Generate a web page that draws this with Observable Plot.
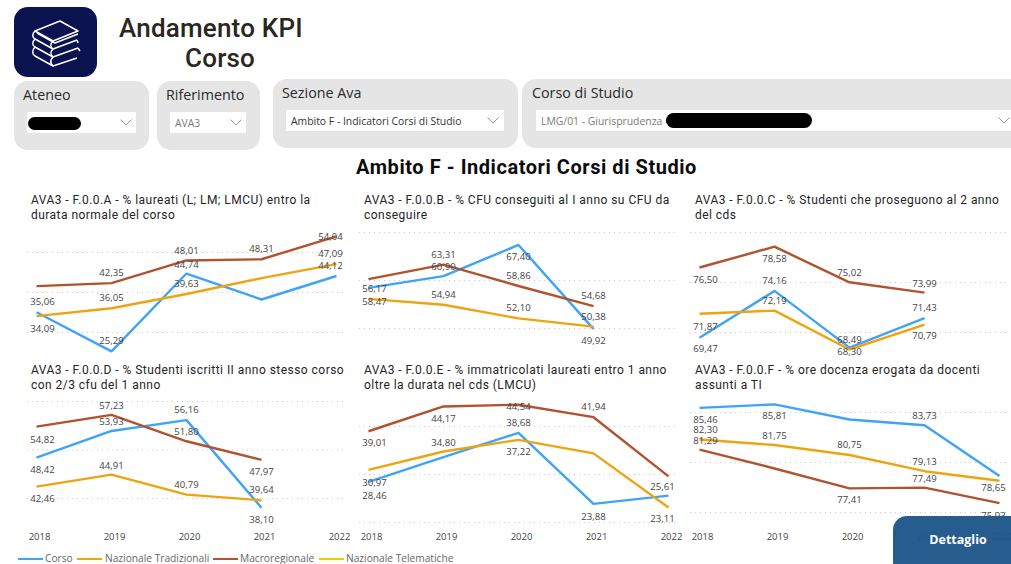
<!DOCTYPE html>
<html lang="it">
<head>
<meta charset="utf-8">
<title>Andamento KPI Corso</title>
<script src="https://cdn.jsdelivr.net/npm/d3@7"></script>
<script src="https://cdn.jsdelivr.net/npm/@observablehq/plot@0.6"></script>
<style>
  html, body { margin: 0; padding: 0; background: #fff; }
  #page { position: relative; width: 1011px; height: 564px; overflow: hidden; font-family: "Open Sans", sans-serif; background: #fff; }
  #page > * { position: absolute; }
  .din { font-family: Roboto, sans-serif; }
  .logo { left: 14px; top: 7px; width: 83px; height: 70px; border-radius: 14px; background: #0b1250; }
  .h1 { left: 119px; color: #2a2620; font-size: 26px; font-weight: 500; letter-spacing: .2px; line-height: 30px; white-space: nowrap; }
  .card { background: #e5e5e5; border-radius: 14px; }
  .cardlabel { font-size: 14.3px; color: #2b2b2b; line-height: 18px; white-space: nowrap; }
  .box { background: #fff; }
  .val { font-size: 10.4px; line-height: 14px; white-space: nowrap; }
  .scribble { background: #000; border-radius: 8px; }
  .chev { display: block; width: 12px; height: 7px; }
  .main { left: 0; width: 1053px; top: 155px; text-align: center; font-size: 20px; font-weight: 700; color: #0c0c0c; letter-spacing: .55px; line-height: 24px; white-space: nowrap; }
  .ptitle { font-size: 12px; color: #252423; line-height: 14.6px; letter-spacing: .46px; white-space: nowrap; font-weight: 400; }
  .legend { font-size: 10.2px; color: #666; white-space: nowrap; line-height: 12px; }
  .lg { height: 2px; width: 25px; }
  .btn { left: 893px; top: 516px; width: 140px; height: 60px; border-radius: 14px; background: rgba(31,87,138,.97); }
  .btnt { left: 893px; width: 130px; top: 532px; text-align: center; color: #fff; font-weight: 700; font-size: 12.5px; line-height: 16px; }
</style>
</head>
<body>
<div id="page"></div>
<script>
// ---------- data ----------
const years = [2018, 2019, 2020, 2021, 2022];
const seriesNames = ["Corso", "Nazionale Tradizionali", "Macroregionale", "Nazionale Telematiche"];
const seriesColors = ["#3fa3f8", "#eda411", "#b0532e", "#e8cf00"];

const titleA = ["AVA3 - F.0.0.A - % laureati (L; LM; LMCU) entro la", "durata normale del corso"];
const corsoA = [35.06, 25.29, 44.74, 38.25, 44.12];
const nazionaleA = [34.09, 36.05, 39.63, 43.60, 47.09];
const macroA = [41.60, 42.35, 48.01, 48.31, 54.04];
const gridA = [30, 40, 50];

const titleB = ["AVA3 - F.0.0.B - % CFU conseguiti al I anno su CFU da", "conseguire"];
const corsoB = [58.47, 60.90, 67.40, 49.92, null];
const nazionaleB = [56.17, 54.94, 52.10, 50.38, null];
const macroB = [60.30, 63.31, 58.86, 54.68, null];
const gridB = [50, 60, 70];

const titleC = ["AVA3 - F.0.0.C - % Studenti che proseguono al 2 anno", "del cds"];
const corsoC = [69.47, 74.16, 68.49, 71.43, null];
const nazionaleC = [71.87, 72.19, 68.30, 70.79, null];
const macroC = [76.50, 78.58, 75.02, 73.99, null];
const gridC = [70, 75, 80];

const titleD = ["AVA3 - F.0.0.D - % Studenti iscritti II anno stesso corso", "con 2/3 cfu del 1 anno"];
const corsoD = [48.42, 53.93, 56.16, 38.10, null];
const nazionaleD = [42.46, 44.91, 40.79, 39.64, null];
const macroD = [54.82, 57.23, 51.80, 47.97, null];
const gridD = [40, 50, 60];

const titleE = ["AVA3 - F.0.0.E - % immatricolati laureati entro 1 anno", "oltre la durata nel cds (LMCU)"];
const corsoE = [28.46, 33.60, 38.68, 23.88, 25.61];
const nazionaleE = [30.97, 34.80, 37.22, 34.40, 23.11];
const macroE = [39.01, 44.17, 44.54, 41.94, 29.60];
const gridE = [20, 30, 40];

const titleF = ["AVA3 - F.0.0.F - % ore docenza erogata da docenti", "assunti a TI"];
const corsoF = [85.46, 85.81, 84.30, 83.73, 78.65];
const nazionaleF = [82.30, 81.75, 80.75, 79.13, 78.17];
const macroF = [81.29, 79.40, 77.41, 77.49, 75.93];
const gridF = [75, 80, 85];

// Which values carry a data label, and on which side of the point it sits (null = no label)
const labelsA = [[-10,-10,-9,null,-10],[13,-10,-10,null,-10],[null,-10,-10,-10,1]];
const labelsB = [[14,-9,12,12,null],[-10,-10,-10,-10,null],[null,-10,-10,-10,null]];
const labelsC = [[11,-10,-8,-10,null],[13,-10,2,11,null],[12,12,-9,-9,null]];
const labelsD = [[12,-9,-10,12,null],[12,-9,-10,-10,null],[13,-9,-9,12,null]];
const labelsE = [[14,null,-10,13,-9],[13,-9,12,null,11],[12,12,2,-10,null]];
const labelsF = [[12,12,null,-9,12],[-10,-9,-10,-9,null],[-9,null,12,-9,13]];

const fmt = v => v.toFixed(2).replace(".", ",");
// Labels of the first and last year are pulled inward, as in the reference.
const labelDx = y => (y === years[0] ? 6 : y === years[years.length - 1] ? -6 : 0);

// ---------- page furniture ----------
const page = document.getElementById("page");
function el(cls, css, text) {
  const d = document.createElement("div");
  d.className = cls;
  d.style.cssText = css;
  if (text != null) d.textContent = text;
  page.appendChild(d);
  return d;
}
const logo = el("logo", "");
logo.innerHTML = `<svg width="83" height="70" viewBox="0 0 83 70" fill="none" stroke="#fff" stroke-width="1.5" stroke-linejoin="round">
<path d="M21 24 L46 14 L64 24 L39 34 Z"/><path d="M21 24 C18 27 18 30 21 32 L39 42 L63 33"/><path d="M21 32 C18 35 18 38 21 40 L39 50 L64 41 M39 34 C36 37 36 40 39 42"/>
<path d="M21 40 C18 43 18 47 21 49 L39 59 L63 51 M39 42 C36 45 36 47 39 50 M39 50 C36 53 36 56 39 59 M63 33 L64 36 M64 41 L66 44"/>
<path d="M23 26 L41 36 L64 27"/></svg>`;
el("h1 din", "top:13px", "Andamento KPI");
el("h1 din", "top:43px;left:185px", "Corso");

const chevron = `<svg class="chev" viewBox="0 0 12 7" fill="none" stroke="#999" stroke-width="1"><path d="M.5.5 L6 6 L11.5.5"/></svg>`;
function slicer(x, y, w, h, label, lx, bx, bw, text, color, chevX) {
  el("card", `left:${x}px;top:${y}px;width:${w}px;height:${h}px`);
  el("cardlabel", `left:${lx}px;top:${y + 5}px`, label);
  el("box", `left:${bx}px;top:${y + 31}px;width:${bw}px;height:21px`);
  if (text) el("val", `left:${bx + 5}px;top:${y + 35}px;color:${color}`, text);
  el("", `left:${chevX}px;top:${y + 38}px;height:7px;width:12px`).innerHTML = chevron;
}
slicer(14, 81, 135, 69, "Ateneo", 23, 27, 109, "", "", 120);
slicer(157, 81, 103, 69, "Riferimento", 166, 170, 76, "AVA3", "#7a7a7a", 230);
slicer(273, 79, 245, 69, "Sezione Ava", 282, 286, 218, "Ambito F - Indicatori Corsi di Studio", "#333", 487);
slicer(522, 79, 520, 69, "Corso di Studio", 532, 536, 480, "LMG/01 - Giurisprudenza -", "#7a7a7a", 998);
el("scribble", "left:28px;top:117px;width:53px;height:13px");
el("scribble", "left:666px;top:113px;width:146px;height:15px");

el("main din", "", "Ambito F - Indicatori Corsi di Studio");

// ---------- the six small multiples ----------
// Each panel: where its frame sits on the page, and where its outer gridlines fall inside it.
const panels = [
  {title: titleA, series: [corsoA, nazionaleA, macroA], labels: labelsA, ticks: gridA, left: 27, top: 225, gridTop: 27, gridBottom: 107, axis: false},
  {title: titleB, series: [corsoB, nazionaleB, macroB], labels: labelsB, ticks: gridB, left: 359, top: 225, gridTop: 7, gridBottom: 103, axis: false},
  {title: titleC, series: [corsoC, nazionaleC, macroC], labels: labelsC, ticks: gridC, left: 690, top: 225, gridTop: 7, gridBottom: 107, axis: false},
  {title: titleD, series: [corsoD, nazionaleD, macroD], labels: labelsD, ticks: gridD, left: 27, top: 395, gridTop: 6, gridBottom: 103, axis: true},
  {title: titleE, series: [corsoE, nazionaleE, macroE], labels: labelsE, ticks: gridE, left: 359, top: 395, gridTop: 31, gridBottom: 127, axis: true},
  {title: titleF, series: [corsoF, nazionaleF, macroF], labels: labelsF, ticks: gridF, left: 690, top: 395, gridTop: 17, gridBottom: 117, axis: true}
];
const W = 317, H = 150;

panels.forEach((p, i) => {
  const titleX = p.left + (i % 3 === 0 ? 4 : 5);
  const titleY = (i < 3 ? 193 : 363);
  p.title.forEach((line, j) => el("ptitle din", `left:${titleX}px;top:${titleY + j * 14.6}px`, line));

  const rows = p.series.flatMap((vals, s) => vals.map((value, k) => ({
    year: years[k], value, series: seriesNames[s], dy: p.labels[s][k]
  })));
  const labelled = rows.filter(d => d.value != null && d.dy != null);

  const svg = Plot.plot({
    width: W, height: H,
    marginLeft: 0, marginRight: 0, marginTop: 0, marginBottom: 12,
    style: {overflow: "visible", background: "transparent"},
    x: {type: "point", domain: years, range: [8, 310], padding: 0, axis: null},
    y: {domain: [p.ticks[0], p.ticks[p.ticks.length - 1]], range: [p.gridBottom, p.gridTop], axis: null},
    color: {domain: seriesNames, range: seriesColors},
    marks: [
      Plot.gridY(p.ticks, {stroke: "#c9c9c9", strokeOpacity: 1, strokeDasharray: "1 4"}),
      Plot.line(rows, {x: "year", y: "value", z: "series", stroke: "series", strokeWidth: 2.4, strokeLinecap: "butt", strokeLinejoin: "miter"}),
      ...labelled.map(d => Plot.text([d], {
        x: "year", y: "value", text: t => fmt(t.value), dy: d.dy, dx: labelDx(d.year),
        fill: "#444", fontSize: 9.6, fontFamily: "Open Sans", textAnchor: "middle"
      })),
      ...(p.axis ? [Plot.axisX({dx: 3, tickSize: 0, tickPadding: 0, fontSize: 9.5, fontFamily: "Open Sans", fill: "#444", label: null, tickFormat: d => String(d)})] : [])
    ]
  });
  const holder = el("", `left:${p.left}px;top:${p.top}px;width:${W}px;height:${H}px`);
  holder.appendChild(svg);
});

// ---------- legend ----------
const legendLine = [18, 77, 213, 319];
const legendText = [45, 105, 240, 346];
seriesNames.forEach((name, i) => {
  el("lg", `left:${legendLine[i]}px;top:558px;background:${seriesColors[i]}`);
  el("legend", `left:${legendText[i]}px;top:552px`, name);
});

el("btn", "");
el("btnt", "", "Dettaglio");
</script>
</body>
</html>
